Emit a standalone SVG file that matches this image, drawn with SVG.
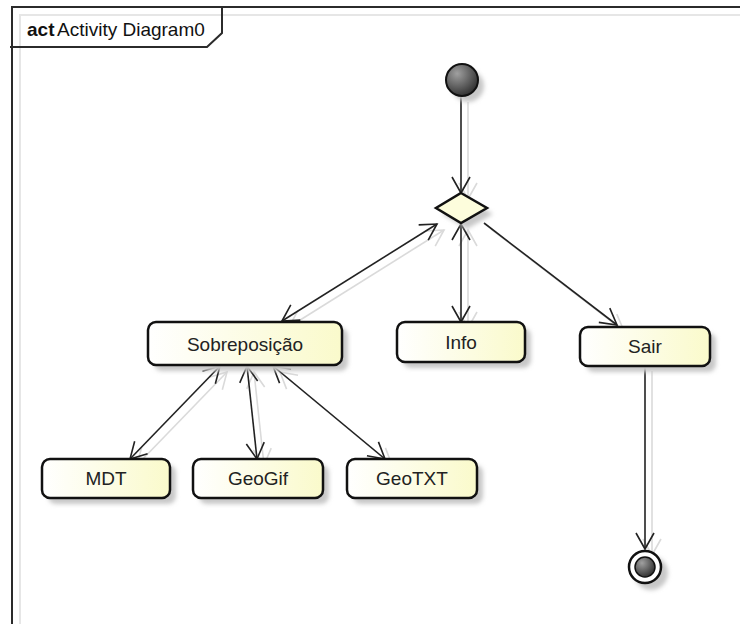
<svg xmlns="http://www.w3.org/2000/svg" width="740" height="624" viewBox="0 0 740 624">
  <style>
    .frame { fill: none; stroke: #2b2b2b; stroke-width: 2; }
    .frame-shadow { fill: none; stroke: #e6e6e6; stroke-width: 2; }
    .node { fill: url(#nodeFill); stroke: #111; stroke-width: 2.5; }
    .node-shadow { fill: #c8c8c8; filter: url(#soft); }
    .label { font-family: "Liberation Sans", Arial, sans-serif; font-size: 19px; fill: #222; text-anchor: middle; }
    .title { font-family: "Liberation Sans", Arial, sans-serif; font-size: 19px; fill: #111; }
    .edge { fill: none; stroke: #222; stroke-width: 1.6; marker-end: url(#arrow); }
    .edge.both { marker-start: url(#arrow); }
    .edge-shadow { fill: none; stroke: #dadada; stroke-width: 1.6; marker-end: url(#arrowShadow); }
    .edge-shadow.both { marker-start: url(#arrowShadow); }
  </style>
  <defs>
    <linearGradient id="nodeFill" x1="0" y1="0" x2="1" y2="0">
      <stop offset="0" stop-color="#ffffff"/>
      <stop offset="1" stop-color="#fafacb"/>
    </linearGradient>
    <radialGradient id="ballFill" cx="0.35" cy="0.3" r="0.8">
      <stop offset="0" stop-color="#a0a0a0"/>
      <stop offset="1" stop-color="#262626"/>
    </radialGradient>
    <filter id="soft" x="-20%" y="-20%" width="140%" height="140%">
      <feGaussianBlur stdDeviation="2"/>
    </filter>
    <marker id="arrow" viewBox="-20 -12 24 24" refX="0" refY="0" markerWidth="24" markerHeight="24" markerUnits="userSpaceOnUse" orient="auto-start-reverse">
      <path d="M-16,-9 L0,0 L-16,9" fill="none" stroke="#222" stroke-width="1.6"/>
    </marker>
    <marker id="arrowShadow" viewBox="-20 -12 24 24" refX="0" refY="0" markerWidth="24" markerHeight="24" markerUnits="userSpaceOnUse" orient="auto-start-reverse">
      <path d="M-16,-9 L0,0 L-16,9" fill="none" stroke="#dadada" stroke-width="1.6"/>
    </marker>
  </defs>

  <rect width="740" height="624" fill="#ffffff"/>

  <!-- diagram frame with its name tab -->
  <g id="frame">
    <path class="frame-shadow" d="M20,624 V15 H740"/>
    <path class="frame" d="M12,624 V7 H740"/>
    <path class="frame" d="M10,47 H207 L222,33 V7"/>
    <text class="title" x="27" y="36"><tspan font-weight="bold">act</tspan><tspan x="57">Activity Diagram0</tspan></text>
  </g>

  <!-- connectors -->
  <g id="connectors">
    <g transform="translate(7,6)">
      <path class="edge-shadow" d="M461,96 V193"/>
      <path class="edge-shadow both" d="M437,224 L282,321"/>
      <path class="edge-shadow both" d="M461,224 V322"/>
      <path class="edge-shadow" d="M484,223 L617,325"/>
      <path class="edge-shadow both" d="M220,366 L130,459"/>
      <path class="edge-shadow both" d="M247,366 L257,459"/>
      <path class="edge-shadow both" d="M273,366 L385,459"/>
      <path class="edge-shadow" d="M645,365 V549"/>
    </g>
    <path class="edge" d="M461,96 V193"/>
    <path class="edge both" d="M437,224 L282,321"/>
    <path class="edge both" d="M461,224 V322"/>
    <path class="edge" d="M484,223 L617,325"/>
    <path class="edge both" d="M220,366 L130,459"/>
    <path class="edge both" d="M247,366 L257,459"/>
    <path class="edge both" d="M273,366 L385,459"/>
    <path class="edge" d="M645,365 V549"/>
  </g>

  <!-- initial node -->
  <g id="initial">
    <circle cx="468" cy="86" r="16" class="node-shadow"/>
    <circle cx="462" cy="80" r="16" fill="url(#ballFill)" stroke="#111" stroke-width="2"/>
  </g>

  <!-- decision node -->
  <g id="decision">
    <polygon points="467,199 493,214 467,229 442,214" class="node-shadow"/>
    <polygon points="461,193 487,208 461,223 436,208" fill="#fdfddc" stroke="#111" stroke-width="2.5"/>
  </g>

  <g id="sobreposicao">
    <rect x="154" y="328" width="194" height="43" rx="8" class="node-shadow"/>
    <rect x="148" y="322" width="194" height="43" rx="8" class="node"/>
    <text class="label" x="245" y="351">Sobreposição</text>
  </g>

  <g id="info">
    <rect x="403" y="328" width="128" height="40" rx="8" class="node-shadow"/>
    <rect x="397" y="322" width="128" height="40" rx="8" class="node"/>
    <text class="label" x="461" y="349">Info</text>
  </g>

  <g id="sair">
    <rect x="586" y="333" width="130" height="39" rx="8" class="node-shadow"/>
    <rect x="580" y="327" width="130" height="39" rx="8" class="node"/>
    <text class="label" x="645" y="353">Sair</text>
  </g>

  <g id="mdt">
    <rect x="48" y="465" width="128" height="39" rx="8" class="node-shadow"/>
    <rect x="42" y="459" width="128" height="39" rx="8" class="node"/>
    <text class="label" x="106" y="485">MDT</text>
  </g>

  <g id="geogif">
    <rect x="199" y="465" width="130" height="39" rx="8" class="node-shadow"/>
    <rect x="193" y="459" width="130" height="39" rx="8" class="node"/>
    <text class="label" x="258" y="485">GeoGif</text>
  </g>

  <g id="geotxt">
    <rect x="353" y="465" width="130" height="39" rx="8" class="node-shadow"/>
    <rect x="347" y="459" width="130" height="39" rx="8" class="node"/>
    <text class="label" x="412" y="485">GeoTXT</text>
  </g>

  <!-- final node -->
  <g id="final">
    <circle cx="651" cy="573" r="17" class="node-shadow"/>
    <circle cx="645" cy="567" r="16" fill="#ffffff" stroke="#111" stroke-width="2.5"/>
    <circle cx="645" cy="567" r="10" fill="url(#ballFill)" stroke="#111" stroke-width="1.5"/>
  </g>
</svg>
